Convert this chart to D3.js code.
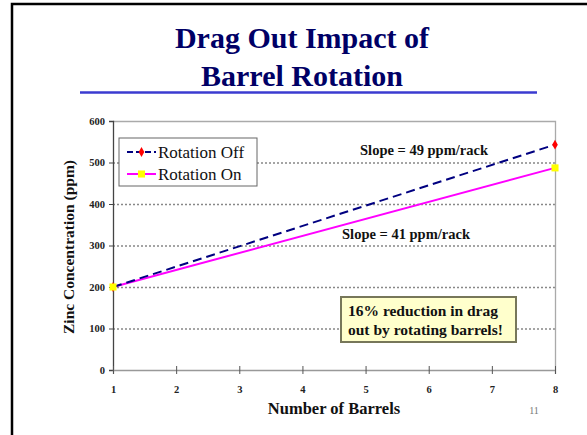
<!DOCTYPE html>
<html>
<head>
<meta charset="utf-8">
<script src="https://cdn.jsdelivr.net/npm/d3@7"></script>
<style>
  body { margin: 0; background: #fff; }
  svg { display: block; }
</style>
</head>
<body>
<div class="chart"></div>
<script>
// data
const barrels = [1, 8];
const rotationOff = [200, 543];
const rotationOn = [200, 487];
const seriesNames = ['Rotation Off', 'Rotation On'];
const yTicks = [0, 100, 200, 300, 400, 500, 600];
const xTicks = [1, 2, 3, 4, 5, 6, 7, 8];
const slopeLabels = ['Slope = 49 ppm/rack', 'Slope = 41 ppm/rack'];
const noteLines = ['16% reduction in drag', 'out by rotating barrels!'];

const SERIF = '"Liberation Serif"';
const W = 587, H = 435;
const margin = {top: 121, right: 32, bottom: 65, left: 113};
const width = W - margin.left - margin.right;
const height = H - margin.top - margin.bottom;

const svg = d3.select('.chart').append('svg')
    .attr('width', W)
    .attr('height', H);

// slide frame
svg.append('path')
    .attr('d', 'M12,' + H + 'V4H' + W)
    .attr('fill', 'none')
    .attr('stroke', '#000')
    .attr('stroke-width', 2.5);

// title
const title = svg.append('text')
    .attr('text-anchor', 'middle')
    .attr('fill', '#000066')
    .style('font-family', SERIF)
    .style('font-weight', 'bold')
    .style('font-size', '30px');
title.append('tspan').attr('x', 302).attr('y', 48).text('Drag Out Impact of');
title.append('tspan').attr('x', 302).attr('y', 86).text('Barrel Rotation');

svg.append('line')
    .attr('x1', 80).attr('x2', 537)
    .attr('y1', 92.5).attr('y2', 92.5)
    .attr('stroke', '#3b3bd0')
    .attr('stroke-width', 2.5);

const g = svg.append('g')
    .attr('transform', 'translate(' + margin.left + ',' + margin.top + ')');

const x = d3.scaleLinear().domain([1, 8]).range([0, width]);
const y = d3.scaleLinear().domain([0, 600]).range([height, 0]);

// dotted gridlines
g.selectAll('.grid')
    .data(yTicks.filter(d => d > 0 && d < 600))
    .enter().append('line')
    .attr('x1', 0).attr('x2', width)
    .attr('y1', d => y(d) + 0.5).attr('y2', d => y(d) + 0.5)
    .attr('stroke', '#888')
    .attr('stroke-width', 1.3)
    .attr('stroke-dasharray', '2,2');

// plot area border top/right
g.append('path')
    .attr('d', 'M0,0.5H' + (width + 0.5) + 'V' + height)
    .attr('fill', 'none')
    .attr('stroke', '#aaa')
    .attr('stroke-width', 1.3);

// axes
const yAxis = g.append('g')
    .call(d3.axisLeft(y).tickValues(yTicks).tickSize(4).tickPadding(4));
const xAxis = g.append('g')
    .attr('transform', 'translate(0,' + height + ')')
    .call(d3.axisBottom(x).tickValues(xTicks).tickSize(4).tickPadding(12).tickFormat(d3.format('d')));

yAxis.select('.domain').attr('stroke', '#444').attr('stroke-width', 1.3);
xAxis.select('.domain').attr('stroke', '#999').attr('stroke-width', 1.3);
yAxis.selectAll('.tick line').attr('stroke', '#444');
xAxis.selectAll('.tick line').attr('stroke', '#555').attr('y1', -4);
[yAxis, xAxis].forEach(a => a.selectAll('.tick text')
    .attr('fill', '#222')
    .style('font-family', SERIF)
    .style('font-weight', 'bold')
    .style('font-size', '10.5px'));

// series
const line = d3.line().x((d, i) => x(barrels[i])).y(d => y(d));

g.append('path')
    .datum(rotationOn)
    .attr('d', line)
    .attr('fill', 'none')
    .attr('stroke', '#ff00ff')
    .attr('stroke-width', 2);

g.append('path')
    .datum(rotationOff)
    .attr('d', line)
    .attr('fill', 'none')
    .attr('stroke', '#000080')
    .attr('stroke-width', 2)
    .attr('stroke-dasharray', '9,5');

const diamond = d3.symbol().type(d3.symbolDiamond).size(28);
const square = d3.symbol().type(d3.symbolSquare).size(50);

g.selectAll('.off-pt')
    .data(rotationOff)
    .enter().append('path')
    .attr('d', diamond)
    .attr('transform', (d, i) => 'translate(' + x(barrels[i]) + ',' + y(d) + ')')
    .attr('fill', '#ff0000');

g.selectAll('.on-pt')
    .data(rotationOn)
    .enter().append('path')
    .attr('d', square)
    .attr('transform', (d, i) => 'translate(' + x(barrels[i]) + ',' + y(d) + ')')
    .attr('fill', '#ffff00');

// slope notes
g.append('text')
    .attr('x', 311).attr('y', 34)
    .attr('text-anchor', 'middle')
    .style('font-family', SERIF)
    .style('font-weight', 'bold').style('font-size', '14.5px')
    .attr('fill', '#111')
    .text(slopeLabels[0]);
g.append('text')
    .attr('x', 293).attr('y', 118)
    .attr('text-anchor', 'middle')
    .style('font-family', SERIF)
    .style('font-weight', 'bold').style('font-size', '14.5px')
    .attr('fill', '#111')
    .text(slopeLabels[1]);

// legend
const legend = g.append('g').attr('transform', 'translate(6,17)');
legend.append('rect')
    .attr('width', 138).attr('height', 48)
    .attr('fill', '#fff')
    .attr('stroke', '#666')
    .attr('stroke-width', 1);
seriesNames.forEach((name, i) => {
    const ly = 14 + i * 22;
    const row = legend.append('g').attr('transform', 'translate(0,' + ly + ')');
    row.append('line')
        .attr('x1', 8).attr('x2', 37)
        .attr('stroke', i === 0 ? '#000080' : '#ff00ff')
        .attr('stroke-width', 2)
        .attr('stroke-dasharray', i === 0 ? '6,3' : null);
    row.append('path')
        .attr('d', i === 0 ? diamond : square)
        .attr('transform', 'translate(22.5,0)')
        .attr('fill', i === 0 ? '#ff0000' : '#ffff00');
    row.append('text')
        .attr('x', 39).attr('y', 6)
        .style('font-family', SERIF)
        .style('font-size', '17px')
        .attr('fill', '#111')
        .text(name);
});

// reduction note box
const note = g.append('g').attr('transform', 'translate(228,176)');
note.append('rect')
    .attr('width', 175).attr('height', 45)
    .attr('fill', '#ffffcc')
    .attr('stroke', '#77775a')
    .attr('stroke-width', 2);
noteLines.forEach((t, i) => note.append('text')
    .attr('x', 7).attr('y', 19 + i * 19)
    .style('font-family', SERIF)
    .style('font-weight', 'bold').style('font-size', '15.5px')
    .attr('fill', '#111')
    .text(t));

// axis titles
svg.append('text')
    .attr('transform', 'translate(74,247) rotate(-90)')
    .attr('text-anchor', 'middle')
    .style('font-family', SERIF)
    .style('font-weight', 'bold').style('font-size', '15.5px')
    .attr('fill', '#111')
    .text('Zinc Concentration (ppm)');
svg.append('text')
    .attr('x', 334).attr('y', 414)
    .attr('text-anchor', 'middle')
    .style('font-family', SERIF)
    .style('font-weight', 'bold').style('font-size', '16.5px')
    .attr('fill', '#111')
    .text('Number of Barrels');

// slide number
svg.append('text')
    .attr('x', 534).attr('y', 414)
    .attr('text-anchor', 'middle')
    .style('font-family', SERIF)
    .style('font-size', '10px')
    .attr('fill', '#777')
    .text('11');
</script>
</body>
</html>
